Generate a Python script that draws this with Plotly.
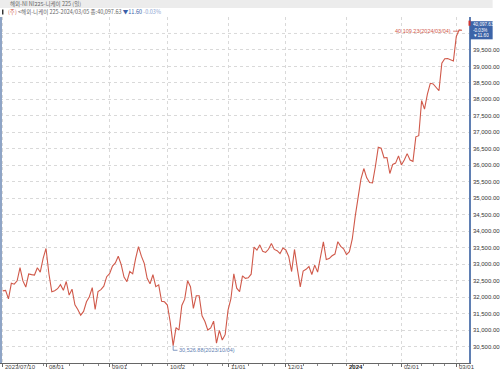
import pandas as pd
import plotly.graph_objects as go

# ---------------- data ----------------
start_date = "2023-07-10"
end_date = "2024-03-05"
jp_holidays = ["2023-07-17", "2023-08-11", "2023-09-18", "2023-10-09", "2023-11-03",
               "2023-11-23", "2024-01-01", "2024-01-02", "2024-01-03", "2024-01-08",
               "2024-02-12", "2024-02-23"]

close_jul = [32189.73, 32203.57, 31943.93, 32419.33, 32391.26, 32493.89, 32896.03, 32490.52,
             32304.25, 32700.69, 32682.51, 32668.34, 32891.16, 32759.23, 33172.22]
close_aug = [33476.58, 32707.69, 32159.28, 32192.75, 32254.56, 32377.29, 32204.33, 32473.65,
             32059.91, 32238.89, 31766.82, 31626.00, 31450.76, 31565.64, 31856.71, 32010.26,
             32287.21, 31624.28, 32169.99, 32226.97, 32333.46, 32619.34]
close_sep = [32710.62, 32939.18, 33036.76, 33241.02, 32991.08, 32606.84, 32467.76, 32776.37,
             32706.52, 33168.10, 33533.09, 33242.59, 33023.78, 32571.03, 32402.41, 32678.62,
             32315.05, 32371.90, 31872.52, 31857.62]
close_oct = [31759.88, 31237.94, 30526.88, 31075.36, 30994.67, 31746.53, 31936.51, 32494.66,
             32315.99, 31659.03, 32040.29, 32042.25, 31430.62, 31259.36, 30999.55, 31062.35,
             31269.92, 30601.78, 30991.69, 30696.96, 30858.85]
close_nov = [31601.65, 31949.89, 32708.48, 32271.82, 32166.48, 32646.46, 32568.11, 32585.11,
             32695.86, 33519.70, 33424.41, 33585.20, 33388.03, 33354.14, 33451.83, 33625.53,
             33447.67, 33408.39, 33321.22, 33486.89]
close_dec = [33431.51, 33231.27, 32775.82, 33445.90, 32858.31, 32307.86, 32791.80, 32843.53,
             32926.35, 32686.25, 32970.55, 32758.98, 33219.39, 33675.94, 33140.47, 33169.05,
             33254.03, 33305.85, 33681.24, 33539.62, 33464.17]
close_jan = [33288.29, 33377.42, 33763.18, 34441.72, 35049.86, 35577.11, 35901.79, 35619.18,
             35477.75, 35466.17, 35963.27, 36546.95, 36517.57, 36226.48, 36236.47, 35751.07,
             36026.94, 36065.86, 36286.71]
close_feb = [36011.46, 36158.02, 36354.16, 36160.66, 36119.92, 36863.28, 36897.42, 37963.97,
             37703.32, 38157.94, 38487.24, 38470.38, 38363.61, 38262.16, 39098.68, 39233.71,
             39239.52, 39208.03, 39166.19]
close_mar = [39910.82, 40109.23, 40097.63]

closes = close_jul + close_aug + close_sep + close_oct + close_nov + close_dec + close_jan + close_feb + close_mar

month_tick_dates = ["2023-07-10", "2023-08-01", "2023-09-01", "2023-10-02", "2023-11-01",
                    "2023-12-01", "2024-01-04", "2024-02-01", "2024-03-01"]
month_tick_labels = ["2023/07/10", "08/01", "09/01", "10/02", "11/01", "12/01", "2024", "02/01", "03/01"]
y_tick_values = [30500 + 500 * i for i in range(19)]   # 30,500 ... 39,500 labelled
y_grid_extra = [40000]                                  # grid only (label hidden by value box)

max_label = "40,109.23(2024/03/04)"
min_label = "30,526.88(2023/10/04)"
header_title = "해외-NI NI225-니케이 225 (일)"
legend_name = "<해외-니케이 225-2024/03/05 종:40,097.63"
legend_chg = "▼11.60"
legend_pct = "-0.03%"
box_lines = ["40,097.63", "-0.03%", "▼11.60"]

# ---------------- build ----------------
dates = [d for d in pd.bdate_range(start_date, end_date) if d.strftime("%Y-%m-%d") not in jp_holidays]
date_str = [d.strftime("%Y-%m-%d") for d in dates]
n = min(len(dates), len(closes))
idx = list(range(n))
closes = closes[:n]

major_idx = [date_str.index(d) for d in month_tick_dates]
minor_idx = [i for i in range(1, n) if dates[i].weekday() < dates[i - 1].weekday()]

W, H = 500, 371
ML, MR, MT, MB = 0, 24, 17, 8
PW, PH = W - ML - MR, H - MT - MB

def px_x(p):
    return (p - ML) / PW

def px_y(p):
    return (H - MB - p) / PH

LINE = "#d0594a"
BLUEGRAY = "#5f7fb3"
NUMFONT = "Liberation Sans Narrow, Liberation Sans, Arial"
KRFONT = "Noto Sans CJK KR"

fig = go.Figure()
fig.add_trace(go.Scatter(x=idx, y=closes, mode="lines",
                         line=dict(color=LINE, width=1.1), hoverinfo="skip", showlegend=False))

fig.update_layout(
    width=W, height=H,
    margin=dict(l=ML, r=MR, t=MT, b=MB, pad=0),
    paper_bgcolor="white", plot_bgcolor="white",
    showlegend=False,
    xaxis=dict(range=[-0.93, 161.4], showgrid=True, gridcolor="#d9d9d9", griddash="dot",
               gridwidth=1, tickvals=major_idx, ticktext=["" for _ in major_idx],
               ticks="outside", ticklen=3, tickcolor="#666", showline=True,
               linecolor="#666", linewidth=1, zeroline=False,
               minor=dict(tickvals=minor_idx, ticks="outside", ticklen=2, tickcolor="#888", showgrid=False)),
    yaxis=dict(range=[30000, 40500], side="right", tickvals=y_tick_values, tickformat=",.2f",
               showgrid=True, gridcolor="#d9d9d9", griddash="dot", gridwidth=1,
               showline=True, linecolor=BLUEGRAY, linewidth=1.5, ticks="", zeroline=False,
               tickfont=dict(family=NUMFONT, size=6, color="#333"), ticklabelstandoff=1),
)

annotations = []
shapes = []

for g in y_grid_extra:
    shapes.append(dict(type="line", xref="paper", yref="y", x0=0, x1=1, y0=g, y1=g,
                       line=dict(color="#d9d9d9", width=1, dash="dot"), layer="below"))

# x tick labels (left-aligned after tick)
for i, lab in zip(major_idx, month_tick_labels):
    bold = lab == "2024"
    annotations.append(dict(x=i, xref="x", y=px_y(367), yref="paper",
                            text=("<b>%s</b>" % lab) if bold else lab, showarrow=False,
                            xanchor="left", yanchor="middle", xshift=0.5,
                            font=dict(family=NUMFONT, size=6, color="#222" if bold else "#444")))

# header band and texts
shapes.append(dict(type="rect", xref="paper", yref="paper", x0=px_x(0), x1=px_x(W),
                   y0=px_y(8), y1=px_y(0), fillcolor="#ececec", line=dict(width=0), layer="below"))
annotations.append(dict(x=px_x(8), y=px_y(4), xref="paper", yref="paper", text=header_title,
                        showarrow=False, xanchor="left", yanchor="middle",
                        font=dict(family=KRFONT, size=5.5, color="#666")))
shapes.append(dict(type="rect", xref="paper", yref="paper", x0=px_x(2), x1=px_x(3.5),
                   y0=px_y(14.5), y1=px_y(9.5), fillcolor="#333", line=dict(width=0)))
legend_text = ('<span style="color:#d0594a">(주)</span> '
               '<span style="color:#666">%s</span> '
               '<span style="color:#3a5fa8">%s</span> '
               '<span style="color:#8aa4d0">%s</span>') % (legend_name, legend_chg, legend_pct)
annotations.append(dict(x=px_x(6), y=px_y(12), xref="paper", yref="paper", text=legend_text,
                        showarrow=False, xanchor="left", yanchor="middle",
                        font=dict(family=KRFONT, size=5.5, color="#666")))

# left border bar
shapes.append(dict(type="line", xref="paper", yref="paper", x0=px_x(1), x1=px_x(1),
                   y0=0, y1=1, line=dict(color="#8ea4c6", width=2)))

# max annotation
imax = closes.index(max(closes))
shapes.append(dict(type="line", xref="x", yref="y", x0=imax - 2.1, x1=imax,
                   y0=max(closes) - 40, y1=max(closes) - 40, line=dict(color=LINE, width=0.8)))
annotations.append(dict(x=imax - 2.1, y=max(closes) - 40, xref="x", yref="y", text=max_label,
                        showarrow=False, xanchor="right", yanchor="middle",
                        font=dict(family=NUMFONT, size=5.5, color=LINE)))

# min annotation
imin = closes.index(min(closes))
shapes.append(dict(type="path", xref="x", yref="y",
                   path="M %f %f L %f %f L %f %f" % (imin, min(closes), imin, min(closes) - 140,
                                                      imin + 1.5, min(closes) - 140),
                   line=dict(color=BLUEGRAY, width=0.8)))
annotations.append(dict(x=imin + 1.5, y=min(closes) - 140, xref="x", yref="y", text=min_label,
                        showarrow=False, xanchor="left", yanchor="middle",
                        font=dict(family=NUMFONT, size=5.5, color=BLUEGRAY)))

# last value box on right axis
last = closes[-1]
step = 172
shapes.append(dict(type="rect", xref="paper", yref="y", x0=px_x(477), x1=px_x(500),
                   y0=last - 1.6 * step, y1=last + 1.6 * step, fillcolor="#3c64a8", line=dict(width=0)))
shapes.append(dict(type="rect", xref="paper", yref="y", x0=px_x(475.5), x1=px_x(477.5),
                   y0=last + 0.8 * step, y1=last + 1.7 * step, fillcolor="#d0312d", line=dict(width=0)))
for k, t in enumerate(box_lines):
    annotations.append(dict(x=px_x(478), y=last + step - k * step, xref="paper", yref="y", text=t,
                            showarrow=False, xanchor="left", yanchor="middle",
                            font=dict(family=NUMFONT, size=4.6, color="white"),
                            height=5, valign="middle"))

fig.update_layout(annotations=annotations, shapes=shapes)
fig.write_html("out.html")
